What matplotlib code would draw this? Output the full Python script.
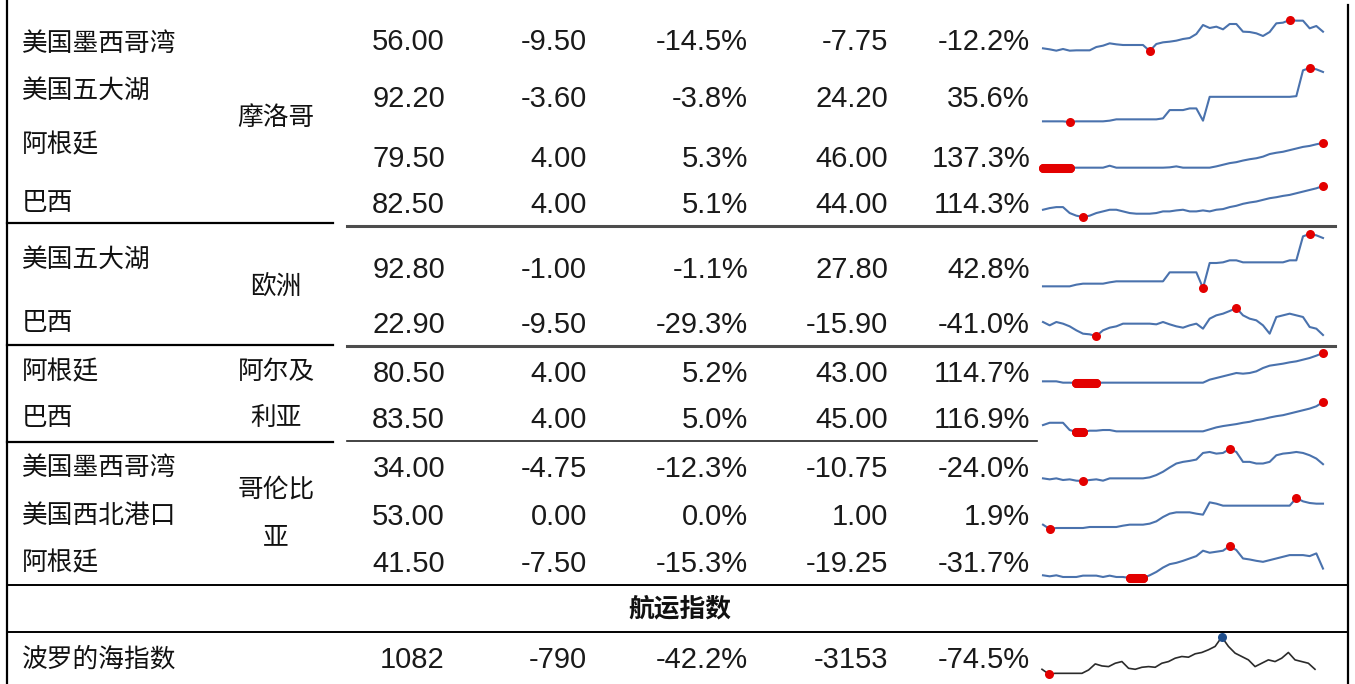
import matplotlib
matplotlib.use("Agg")
import matplotlib.pyplot as plt
import numpy as np

plt.rcParams["font.family"] = ["Noto Sans CJK SC", "DejaVu Sans"]

# table data ---------------------------------------------------------------
origins = ["美国墨西哥湾", "美国五大湖", "阿根廷", "巴西",
           "美国五大湖", "巴西",
           "阿根廷", "巴西",
           "美国墨西哥湾", "美国西北港口", "阿根廷"]
price = [56.00, 92.20, 79.50, 82.50, 92.80, 22.90, 80.50, 83.50, 34.00, 53.00, 41.50]
chg = [-9.50, -3.60, 4.00, 4.00, -1.00, -9.50, 4.00, 4.00, -4.75, 0.00, -7.50]
chg_pct = [-14.5, -3.8, 5.3, 5.1, -1.1, -29.3, 5.2, 5.0, -12.3, 0.0, -15.3]
ytd = [-7.75, 24.20, 46.00, 44.00, 27.80, -15.90, 43.00, 45.00, -10.75, 1.00, -19.25]
ytd_pct = [-12.2, 35.6, 137.3, 114.3, 42.8, -41.0, 114.7, 116.9, -24.0, 1.9, -31.7]

section_title = "航运指数"
baltic_name = "波罗的海指数"
baltic_vals = ["1082", "-790", "-42.2%", "-3153", "-74.5%"]

# sparkline series (arbitrary units)
spark = [
    [15, 12, 8, 13, 8, 9, 9, 9, 19, 23, 30, 27, 25, 25, 25, 25, 7, 28, 33, 35, 38, 43,
     46, 58, 85, 76, 80, 72, 88, 88, 65, 64, 60, 52, 64, 90, 92, 100, 98, 98, 75, 82, 65],
    [6, 6, 6, 6, 4, 6, 6, 6, 6, 6, 8, 12, 12, 12, 12, 12, 12, 12, 15, 40, 40, 40,
     45, 45, 8, 80, 80, 80, 80, 80, 80, 80, 80, 80, 80, 80, 80, 80, 82, 160, 167, 163, 155],
    [5, 5, 5, 5, 5, 6, 6, 6, 6, 6, 12, 6, 6, 6, 6, 6, 6, 6, 6, 7, 10, 6,
     6, 6, 6, 6, 10, 15, 20, 23, 28, 32, 35, 40, 48, 52, 55, 60, 65, 70, 73, 78, 82],
    [30, 35, 38, 38, 20, 12, 8, 12, 20, 25, 30, 30, 25, 20, 18, 18, 18, 20, 25, 25, 28, 30,
     25, 25, 28, 25, 30, 32, 38, 42, 48, 52, 55, 60, 65, 68, 72, 75, 80, 85, 90, 95, 102],
    [10, 10, 10, 10, 10, 15, 18, 18, 18, 18, 22, 25, 25, 25, 25, 25, 25, 25, 25, 52, 52, 52,
     52, 52, 5, 80, 80, 82, 88, 88, 82, 82, 82, 82, 82, 82, 82, 88, 88, 160, 167, 163, 155],
    [45, 35, 45, 40, 32, 20, 10, 8, 3, 20, 28, 32, 40, 40, 40, 40, 40, 38, 45, 38, 32, 28,
     35, 40, 25, 55, 65, 70, 78, 87, 65, 55, 50, 35, 10, 60, 65, 70, 65, 60, 30, 25, 6],
    [10, 10, 10, 6, 6, 5, 5, 5, 5, 6, 6, 6, 6, 6, 6, 6, 6, 6, 6, 6, 6, 6,
     6, 6, 6, 15, 20, 25, 30, 35, 33, 35, 40, 50, 57, 60, 63, 67, 70, 75, 80, 87, 95],
    [25, 32, 32, 32, 10, 4, 4, 8, 8, 10, 10, 6, 6, 6, 6, 6, 6, 6, 6, 6, 6, 6,
     6, 6, 6, 12, 18, 22, 25, 28, 32, 35, 40, 43, 48, 52, 55, 60, 65, 70, 75, 82, 95],
    [15, 12, 15, 10, 12, 8, 7, 10, 12, 8, 15, 15, 15, 15, 15, 15, 18, 25, 35, 48, 60, 65,
     68, 72, 92, 95, 90, 92, 104, 95, 65, 65, 60, 60, 65, 85, 90, 92, 95, 92, 85, 75, 58],
    [15, 2, 5, 5, 5, 5, 5, 8, 8, 8, 8, 8, 12, 15, 15, 15, 18, 25, 38, 48, 52, 52,
     52, 48, 45, 82, 78, 72, 72, 72, 72, 72, 72, 72, 72, 72, 72, 72, 95, 85, 80, 78, 78],
    [15, 12, 15, 10, 10, 10, 14, 14, 14, 10, 14, 10, 10, 7, 7, 7, 15, 25, 38, 48, 52, 58,
     65, 72, 88, 82, 85, 88, 102, 90, 65, 62, 58, 55, 60, 65, 70, 75, 75, 75, 72, 80, 35],
]
baltic_spark = [22, 8, 10, 10, 10, 10, 10, 20, 38, 32, 30, 40, 45, 25, 22, 28, 30, 28, 40, 45,
                55, 60, 58, 68, 72, 80, 90, 118, 90, 70, 60, 50, 30, 40, 50, 45, 55, 72,
                50, 45, 40, 22]

groups = [("摩洛哥", [(276, 118)]),
          ("欧洲", [(276, 287)]),
          ("阿尔及\n利亚", [(276, 372), (276, 418)]),
          ("哥伦比\n亚", [(276, 490), (276, 537)])]

# layout (pixels, origin top-left) ----------------------------------------
W, H = 1355, 684
name_y = [44, 91, 145, 203, 260, 323, 372, 418, 468, 516, 563]
num_y = [42, 99, 159, 205, 270, 325, 374, 420, 469, 517, 564]
col_right = [445, 587, 748, 888, 1030]
spark_y = [(20, 51), (68, 122), (143, 168), (186, 217), (234, 288), (308, 336),
           (353, 383), (402, 432), (449, 481), (498, 529), (546, 578)]
SPARK_X = (1043, 1323)
BLUE = "#4a72ad"
RED = "#e30000"

NUM_FONT = dict(family=["Liberation Sans", "DejaVu Sans"], fontsize=21, color="#1a1a1a")
CJK_FONT = dict(fontsize=18.5, color="#111111")


def mark_points(sa, idx, v, mask, color, ms):
    """Dots at the masked points; consecutive runs merge into one thick bar."""
    sa.plot(idx[mask], v[mask], "o", color=color, ms=ms, mec="none", clip_on=False)
    run = np.flatnonzero(mask)
    if len(run) > 1:
        splits = np.split(run, np.flatnonzero(np.diff(run) > 1) + 1)
        for seg in splits:
            if len(seg) > 1:
                sa.plot(idx[seg], v[seg], color=color, lw=ms, solid_capstyle="round",
                        clip_on=False)


def add_spark(fig, x0, x1, y0, y1, vals, color, max_color, lw):
    sa = fig.add_axes([x0 / W, 1 - y1 / H, (x1 - x0) / W, (y1 - y0) / H])
    v = np.asarray(vals, dtype=float)
    idx = np.arange(len(v))
    sa.plot(idx, v, color=color, lw=lw, solid_joinstyle="round", clip_on=False)
    mark_points(sa, idx, v, v == v.min(), RED, 6.5)
    mark_points(sa, idx, v, v == v.max(), max_color, 6.5)
    sa.set_xlim(0, len(v) - 1)
    sa.set_ylim(v.min(), v.max())
    sa.axis("off")


fig = plt.figure(figsize=(W / 100, H / 100), dpi=100)
ax = fig.add_axes([0, 0, 1, 1])
ax.set_xlim(0, W)
ax.set_ylim(H, 0)
ax.axis("off")

# rules
ax.plot([7, 7], [0, H], color="black", lw=1.6)
ax.plot([1348, 1348], [5, H], color="black", lw=1.6)
for y in (223, 345, 442):
    ax.plot([7, 333], [y, y], color="black", lw=1.6)
ax.plot([347, 1335], [226, 226], color="#4d4d4d", lw=2.2)
ax.plot([347, 1335], [345.5, 345.5], color="#4d4d4d", lw=2.2)
ax.plot([347, 1037], [441, 441], color="#222222", lw=1.2)
for y in (585, 632):
    ax.plot([7, 1348], [y, y], color="black", lw=1.4)

# rows
for i, name in enumerate(origins):
    ax.text(22, name_y[i], name, ha="left", va="center", **CJK_FONT)
    cells = [f"{price[i]:.2f}", f"{chg[i]:.2f}", f"{chg_pct[i]:.1f}%",
             f"{ytd[i]:.2f}", f"{ytd_pct[i]:.1f}%"]
    for xr, s in zip(col_right, cells):
        ax.text(xr, num_y[i], s, ha="right", va="center", **NUM_FONT)
    add_spark(fig, SPARK_X[0], SPARK_X[1], spark_y[i][0], spark_y[i][1],
              spark[i], BLUE, RED, 1.5)

for label, pos in groups:
    for part, (x, y) in zip(label.split("\n"), pos):
        ax.text(x, y, part, ha="center", va="center", **CJK_FONT)

ax.text(680, 609, section_title, ha="center", va="center", fontweight="bold", **CJK_FONT)

ax.text(22, 660, baltic_name, ha="left", va="center", **CJK_FONT)
for xr, s in zip(col_right, baltic_vals):
    ax.text(xr, 660, s, ha="right", va="center", **NUM_FONT)
add_spark(fig, 1042, 1315, 637, 674, baltic_spark, "#2b2b2b", "#1f4e8c", 1.2)

fig.savefig("out.png", dpi=100)
